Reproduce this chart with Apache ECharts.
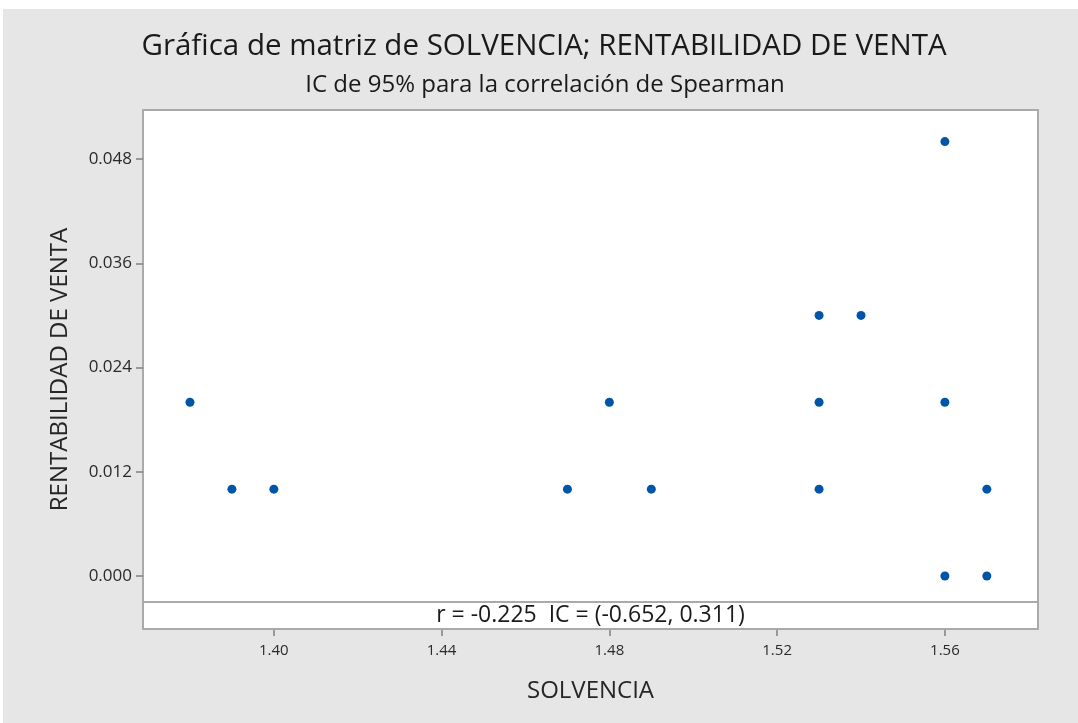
<!DOCTYPE html>
<html>
<head>
<meta charset="utf-8">
<script src="https://cdn.jsdelivr.net/npm/echarts@6/dist/echarts.min.js"></script>
<style>
  html, body { margin: 0; padding: 0; background: #ffffff; }
  #chart { position: absolute; left: 3px; top: 9px; width: 1075px; height: 714px; background: #e6e6e6; }
</style>
</head>
<body>
<div id="chart"></div>
<script>
// datos
var solvencia = [1.38, 1.39, 1.40, 1.47, 1.48, 1.49, 1.53, 1.53, 1.53, 1.54, 1.56, 1.56, 1.56, 1.57, 1.57];
var rentabilidad = [0.02, 0.01, 0.01, 0.01, 0.02, 0.01, 0.03, 0.02, 0.01, 0.03, 0.05, 0.02, 0.00, 0.01, 0.00];
var xTicks = [1.40, 1.44, 1.48, 1.52, 1.56];
var yTicks = [0.000, 0.012, 0.024, 0.036, 0.048];
var statText = 'r = -0.225  IC = (-0.652, 0.311)';

var points = [];
for (var i = 0; i < solvencia.length; ++i) {
	points.push([solvencia[i], rentabilidad[i]]);
}

var FONT = '"Open Sans", "Noto Sans", sans-serif';

var option = {
	animation: false,
	graphic: [
		{ type: 'text', x: 541, y: 38, style: { text: 'Gráfica de matriz de SOLVENCIA; RENTABILIDAD DE VENTA', font: '29.5px ' + FONT, fill: '#1a1a1a', textAlign: 'center', textVerticalAlign: 'middle' } },
		{ type: 'text', x: 542, y: 76, style: { text: 'IC de 95% para la correlación de Spearman', font: '24px ' + FONT, fill: '#1a1a1a', textAlign: 'center', textVerticalAlign: 'middle' } }
	],
	grid: {
		left: 140, top: 101, width: 895, height: 519,
		show: true, backgroundColor: '#ffffff', borderColor: '#aaaaaa', borderWidth: 2
	},
	xAxis: {
		type: 'value', min: 1.3688, max: 1.5822,
		name: 'SOLVENCIA', nameLocation: 'middle', nameGap: 50,
		nameTextStyle: { fontFamily: FONT, fontSize: 24, color: '#262626' },
		axisLine: { show: false, onZero: false },
		axisTick: { show: true, length: 7, customValues: xTicks, lineStyle: { color: '#808080', width: 1.5 } },
		axisLabel: { customValues: xTicks, fontFamily: FONT, fontSize: 15, color: '#2a2a2a', margin: 14,
			formatter: function (v) { return v.toFixed(2); } },
		splitLine: { show: false }
	},
	yAxis: {
		type: 'value', min: -0.0061, max: 0.05364,
		name: 'RENTABILIDAD DE VENTA', nameLocation: 'middle', nameGap: 71,
		nameTextStyle: { fontFamily: FONT, fontSize: 24, color: '#262626' },
		axisLine: { show: false, onZero: false },
		axisTick: { show: true, length: 7, customValues: yTicks, lineStyle: { color: '#808080', width: 1.5 } },
		axisLabel: { customValues: yTicks, fontFamily: FONT, fontSize: 17, color: '#2a2a2a', margin: 11,
			formatter: function (v) { return v.toFixed(3); } },
		splitLine: { show: false }
	},
	series: [{
		type: 'scatter',
		data: points,
		symbolSize: 9,
		itemStyle: { color: '#0055a8', opacity: 1 },
		markArea: {
			silent: true,
			itemStyle: { color: '#ffffff', borderColor: '#aaaaaa', borderWidth: 2 },
			label: { show: true, position: 'inside', fontFamily: FONT, fontSize: 23, color: '#1a1a1a' },
			data: [[{ yAxis: -0.003, name: statText }, { yAxis: -0.0061 }]]
		}
	}]
};

var myChart = echarts.init(document.getElementById('chart'));
myChart.setOption(option);
</script>
</body>
</html>
